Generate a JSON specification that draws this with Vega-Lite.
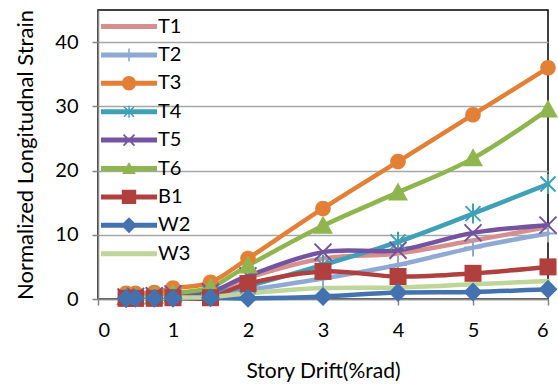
{
  "$schema": "https://vega.github.io/schema/vega-lite/v6.json",
  "autosize": "none",
  "width": 450,
  "height": 289,
  "padding": {"left": 98, "top": 10, "right": 10, "bottom": 92},
  "background": "white",
  "config": {
    "view": {"stroke": "black", "strokeWidth": 1.5},
    "font": "Lato",
    "axis": {
      "labelFont": "Lato", "titleFont": "Lato", "labelColor": "#000000", "titleColor": "#000000",
      "titleFontWeight": "normal", "domainColor": "#868686", "domainWidth": 1.5,
      "tickColor": "#868686", "tickWidth": 1.5, "gridColor": "#A6A6A6", "gridWidth": 1.5
    }
  },
  "data": {"values": [
    {"s":"T1","x":0.375,"y":0.2},{"s":"T1","x":0.5,"y":0.3},{"s":"T1","x":0.75,"y":0.4},{"s":"T1","x":1,"y":0.6},{"s":"T1","x":1.5,"y":0.9},{"s":"T1","x":2,"y":3.3},{"s":"T1","x":3,"y":6.3},{"s":"T1","x":4,"y":7.1},{"s":"T1","x":5,"y":9.1},{"s":"T1","x":6,"y":11.2},
    {"s":"T2","x":0.375,"y":0.1},{"s":"T2","x":0.5,"y":0.2},{"s":"T2","x":0.75,"y":0.3},{"s":"T2","x":1,"y":0.4},{"s":"T2","x":1.5,"y":0.6},{"s":"T2","x":2,"y":1.4},{"s":"T2","x":3,"y":3.2},{"s":"T2","x":4,"y":5.3},{"s":"T2","x":5,"y":8.0},{"s":"T2","x":6,"y":10.2},
    {"s":"T3","x":0.375,"y":0.9},{"s":"T3","x":0.5,"y":0.9},{"s":"T3","x":0.75,"y":1.0},{"s":"T3","x":1,"y":1.7},{"s":"T3","x":1.5,"y":2.6},{"s":"T3","x":2,"y":6.3},{"s":"T3","x":3,"y":14.1},{"s":"T3","x":4,"y":21.4},{"s":"T3","x":5,"y":28.7},{"s":"T3","x":6,"y":36.0},
    {"s":"T4","x":0.375,"y":0.2},{"s":"T4","x":0.5,"y":0.3},{"s":"T4","x":0.75,"y":0.4},{"s":"T4","x":1,"y":0.6},{"s":"T4","x":1.5,"y":0.9},{"s":"T4","x":2,"y":2.0},{"s":"T4","x":3,"y":5.3},{"s":"T4","x":4,"y":8.9},{"s":"T4","x":5,"y":13.3},{"s":"T4","x":6,"y":17.9},
    {"s":"T5","x":0.375,"y":0.3},{"s":"T5","x":0.5,"y":0.4},{"s":"T5","x":0.75,"y":0.5},{"s":"T5","x":1,"y":0.8},{"s":"T5","x":1.5,"y":1.1},{"s":"T5","x":2,"y":3.6},{"s":"T5","x":3,"y":7.3},{"s":"T5","x":4,"y":7.6},{"s":"T5","x":5,"y":10.3},{"s":"T5","x":6,"y":11.5},
    {"s":"T6","x":0.375,"y":0.3},{"s":"T6","x":0.5,"y":0.4},{"s":"T6","x":0.75,"y":0.5},{"s":"T6","x":1,"y":0.9},{"s":"T6","x":1.5,"y":1.8},{"s":"T6","x":2,"y":5.2},{"s":"T6","x":3,"y":11.4},{"s":"T6","x":4,"y":16.6},{"s":"T6","x":5,"y":21.9},{"s":"T6","x":6,"y":29.5},
    {"s":"B1","x":0.375,"y":0.1},{"s":"B1","x":0.5,"y":0.1},{"s":"B1","x":0.75,"y":0.1},{"s":"B1","x":1,"y":0.2},{"s":"B1","x":1.5,"y":0.2},{"s":"B1","x":2,"y":2.4},{"s":"B1","x":3,"y":4.3},{"s":"B1","x":4,"y":3.5},{"s":"B1","x":5,"y":4.0},{"s":"B1","x":6,"y":5.0},
    {"s":"W2","x":0.375,"y":0.1},{"s":"W2","x":0.5,"y":0.1},{"s":"W2","x":0.75,"y":0.1},{"s":"W2","x":1,"y":0.1},{"s":"W2","x":1.5,"y":0.2},{"s":"W2","x":2,"y":0.1},{"s":"W2","x":3,"y":0.4},{"s":"W2","x":4,"y":1.0},{"s":"W2","x":5,"y":1.1},{"s":"W2","x":6,"y":1.5},
    {"s":"W3","x":0.375,"y":0.1},{"s":"W3","x":0.5,"y":0.1},{"s":"W3","x":0.75,"y":0.1},{"s":"W3","x":1,"y":0.2},{"s":"W3","x":1.5,"y":0.3},{"s":"W3","x":2,"y":0.9},{"s":"W3","x":3,"y":1.7},{"s":"W3","x":4,"y":1.8},{"s":"W3","x":5,"y":2.3},{"s":"W3","x":6,"y":2.8}
  ]},
  "encoding": {
    "x": {"field": "x", "type": "quantitative",
      "scale": {"domain": [0, 6], "nice": false},
      "axis": {"values": [0,1,2,3,4,5,6], "grid": false, "tickSize": 6, "labelFontSize": 20, "labelPadding": 15,
        "title": "Story Drift(%rad)", "titleFontSize": 21, "titlePadding": 20}},
    "y": {"field": "y", "type": "quantitative",
      "scale": {"domain": [0, 45], "nice": false},
      "axis": {"values": [0,10,20,30,40], "grid": true, "tickSize": 6, "labelFontSize": 20, "labelPadding": 14,
        "title": "Normalized  Longitudnal Strain", "titleFontSize": 22, "titlePadding": 17}},
    "color": {"field": "s", "type": "nominal",
      "scale": {"domain": ["T1","T2","T3","T4","T5","T6","B1","W2","W3"],
        "range": ["#D68F8F","#8EA9D3","#E38035","#3FA0B8","#7453A0","#8FB64E","#B0403E","#4472B0","#BFD59A"]},
      "legend": {
        "orient": "none", "legendX": 0, "legendY": 6.5, "padding": 0, "title": null,
        "symbolSize": 400, "symbolStrokeWidth": 0, "symbolOffset": 21, "labelOffset": 19,
        "rowPadding": 8.4, "labelFontSize": 20, "labelFont": "Lato", "labelColor": "#000000",
        "encode": {"symbols": {"update": {
          "shape": {"signal": "['M-2.8,-0.25H2.8V0.25H-2.8Z', 'M-2.8,-0.25H2.8V0.25H-2.8Z M-0.08,-0.65H0.08V0.65H-0.08Z', 'M-2.8,-0.25H2.8V0.25H-2.8Z M0.72,0A0.72,0.72 0 1,1 -0.72,0A0.72,0.72 0 1,1 0.72,0Z', 'M-2.8,-0.25H2.8V0.25H-2.8Z M-0.07,-0.6H0.07V0.6H-0.07Z M-0.45,-0.55L0.55,0.45L0.45,0.55L-0.55,-0.45Z M0.55,-0.45L-0.45,0.55L-0.55,0.45L0.45,-0.55Z', 'M-2.8,-0.25H2.8V0.25H-2.8Z M-0.49,-0.61L0.61,0.49L0.49,0.61L-0.61,-0.49Z M0.61,-0.49L-0.49,0.61L-0.61,0.49L0.49,-0.61Z', 'M-2.8,-0.25H2.8V0.25H-2.8Z M0,-0.65L0.68,0.55L-0.68,0.55Z', 'M-2.8,-0.25H2.8V0.25H-2.8Z M-0.72,-0.72H0.72V0.72H-0.72Z', 'M-2.8,-0.25H2.8V0.25H-2.8Z M0,-0.8L0.8,0L0,0.8L-0.8,0Z', 'M-2.8,-0.25H2.8V0.25H-2.8Z'][indexof(['T1','T2','T3','T4','T5','T6','B1','W2','W3'], datum.value)]"},
          "fill": {"scale": "color", "field": "value"},
          "stroke": {"value": "transparent"},
          "strokeWidth": {"value": 0},
          "size": {"value": 400},
          "opacity": {"value": 1}
        }}}
      }}
  },
  "layer": [
    {"mark": {"type": "line", "interpolate": "cardinal", "tension": 0, "strokeWidth": 4.5, "strokeCap": "round", "strokeJoin": "round"}},
    {"transform": [{"filter": "datum.s != 'T1' && datum.s != 'W3'"}],
     "mark": {"type": "point", "filled": true, "opacity": 1, "size": 400, "strokeWidth": 0},
     "encoding": {
       "shape": {"field": "s", "type": "nominal", "legend": null,
         "scale": {"domain": ["T2","T3","T4","T5","T6","B1","W2"],
           "range": [
             "M-0.9,-0.1H0.9V0.1H-0.9Z M-0.1,-0.9H0.1V0.9H-0.1Z",
             "M0.78,0A0.78,0.78 0 1,1 -0.78,0A0.78,0.78 0 1,1 0.78,0Z",
             "M-0.1,-1H0.1V1H-0.1Z M-0.68,-0.82L0.82,0.68L0.68,0.82L-0.82,-0.68Z M0.82,-0.68L-0.68,0.82L-0.82,0.68L0.68,-0.82Z",
             "M-0.78,-0.92L0.92,0.78L0.78,0.92L-0.92,-0.78Z M0.92,-0.78L-0.78,0.92L-0.92,0.78L0.78,-0.92Z",
             "M0,-1L1,0.8L-1,0.8Z",
             "M-0.85,-0.85H0.85V0.85H-0.85Z",
             "M0,-0.95L0.95,0L0,0.95L-0.95,0Z"
           ]}}
     }}
  ]
}
